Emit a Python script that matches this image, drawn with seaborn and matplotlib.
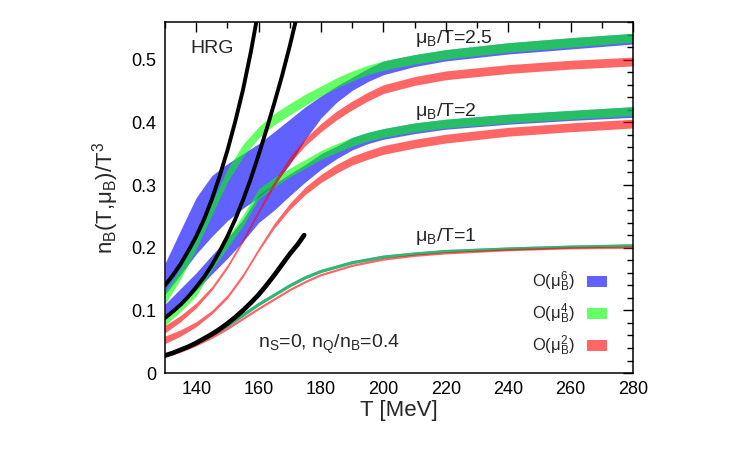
import numpy as np
import matplotlib
matplotlib.use("Agg")
import matplotlib.pyplot as plt
from matplotlib.patches import Patch
from matplotlib.ticker import MultipleLocator
import seaborn as sns

# ---------------- data ----------------
T_grid = [130, 135, 140, 145, 150, 155, 160, 165, 170, 175, 180, 185, 190, 195, 200, 210, 220, 240, 260, 280]

# mu_B/T = 2.5
blue25_lo = [0.125, 0.157, 0.190, 0.218, 0.243, 0.263, 0.280, 0.300, 0.333, 0.373, 0.407, 0.432, 0.451, 0.465, 0.476, 0.489, 0.498, 0.509, 0.517, 0.525]
blue25_hi = [0.175, 0.228, 0.280, 0.315, 0.334, 0.350, 0.366, 0.385, 0.405, 0.425, 0.442, 0.458, 0.472, 0.486, 0.498, 0.508, 0.516, 0.527, 0.535, 0.542]
green25_lo = [0.110, 0.150, 0.198, 0.252, 0.305, 0.345, 0.375, 0.396, 0.412, 0.427, 0.442, 0.455, 0.466, 0.476, 0.483, 0.493, 0.501, 0.512, 0.520, 0.528]
green25_hi = [0.130, 0.168, 0.218, 0.272, 0.325, 0.365, 0.393, 0.414, 0.430, 0.445, 0.458, 0.471, 0.482, 0.491, 0.498, 0.508, 0.516, 0.527, 0.535, 0.542]
red25_lo = [0.064, 0.082, 0.104, 0.132, 0.167, 0.209, 0.255, 0.298, 0.335, 0.363, 0.385, 0.404, 0.420, 0.434, 0.446, 0.459, 0.468, 0.478, 0.485, 0.490]
red25_hi = [0.076, 0.092, 0.112, 0.138, 0.173, 0.215, 0.261, 0.306, 0.345, 0.375, 0.398, 0.418, 0.434, 0.448, 0.460, 0.473, 0.482, 0.492, 0.499, 0.504]

# mu_B/T = 2
blue2_lo = [0.085, 0.108, 0.132, 0.158, 0.183, 0.210, 0.240, 0.260, 0.283, 0.305, 0.325, 0.342, 0.356, 0.366, 0.373, 0.382, 0.389, 0.397, 0.403, 0.408]
blue2_hi = [0.110, 0.135, 0.160, 0.188, 0.215, 0.245, 0.285, 0.302, 0.318, 0.333, 0.350, 0.362, 0.376, 0.384, 0.390, 0.399, 0.405, 0.413, 0.419, 0.425]
green2_lo = [0.076, 0.098, 0.123, 0.165, 0.200, 0.235, 0.278, 0.297, 0.313, 0.327, 0.341, 0.352, 0.362, 0.370, 0.376, 0.385, 0.391, 0.399, 0.405, 0.411]
green2_hi = [0.088, 0.112, 0.138, 0.180, 0.216, 0.252, 0.294, 0.312, 0.327, 0.341, 0.355, 0.366, 0.376, 0.384, 0.390, 0.399, 0.405, 0.413, 0.419, 0.425]
red2_lo = [0.047, 0.059, 0.074, 0.094, 0.119, 0.153, 0.194, 0.231, 0.261, 0.285, 0.304, 0.319, 0.332, 0.341, 0.349, 0.359, 0.367, 0.378, 0.385, 0.391]
red2_hi = [0.059, 0.069, 0.082, 0.100, 0.125, 0.159, 0.200, 0.239, 0.271, 0.297, 0.317, 0.333, 0.346, 0.355, 0.363, 0.373, 0.381, 0.392, 0.399, 0.405]

# mu_B/T = 1 (bands are thin, drawn as lines)
T_mu1 = [130, 135, 140, 145, 150, 155, 160, 165, 170, 175, 180, 190, 200, 210, 220, 240, 260, 280]
mu1_high = [0.028, 0.037, 0.047, 0.060, 0.075, 0.092, 0.109, 0.124, 0.139, 0.152, 0.162, 0.176, 0.185, 0.190, 0.194, 0.198, 0.201, 0.203]
mu1_low = [0.026, 0.034, 0.044, 0.056, 0.070, 0.086, 0.102, 0.117, 0.132, 0.145, 0.156, 0.171, 0.181, 0.187, 0.191, 0.196, 0.199, 0.200]

# HRG curves
T_hrg25 = [130, 132.5, 135, 137.5, 140, 142.5, 145, 147.5, 150, 152.5, 155, 157.5, 160]
hrg25 = [0.140, 0.156, 0.174, 0.195, 0.218, 0.245, 0.277, 0.314, 0.355, 0.401, 0.452, 0.512, 0.580]
T_hrg2 = [130, 132.5, 135, 137.5, 140, 142.5, 145, 147.5, 150, 152.5, 155, 157.5, 160, 162.5, 165, 167.5, 170, 172.5]
hrg2 = [0.088, 0.098, 0.109, 0.122, 0.137, 0.153, 0.172, 0.194, 0.218, 0.245, 0.276, 0.310, 0.348, 0.388, 0.430, 0.474, 0.522, 0.574]
T_hrg1 = [130, 132.5, 135, 137.5, 140, 142.5, 145, 147.5, 150, 152.5, 155, 157.5, 160, 162.5, 165, 167.5, 170, 172.5, 174.6]
hrg1 = [0.028, 0.032, 0.037, 0.042, 0.048, 0.055, 0.062, 0.070, 0.079, 0.089, 0.100, 0.112, 0.125, 0.140, 0.156, 0.173, 0.190, 0.205, 0.220]

x_ticks = [140, 160, 180, 200, 220, 240, 260, 280]
y_ticks = [0, 0.1, 0.2, 0.3, 0.4, 0.5]
y_ticklabels = ["0", "0.1", "0.2", "0.3", "0.4", "0.5"]
legend_labels = [r"O(μ$_{\mathregular{B}}^{\mathregular{6}}$)",
                 r"O(μ$_{\mathregular{B}}^{\mathregular{4}}$)",
                 r"O(μ$_{\mathregular{B}}^{\mathregular{2}}$)"]

# ---------------- style ----------------
sns.set_style("white")
plt.rcParams['font.family'] = ['Liberation Sans', 'DejaVu Sans']
plt.rcParams['mathtext.fontset'] = 'custom'
plt.rcParams['mathtext.rm'] = 'Liberation Sans'
plt.rcParams['mathtext.it'] = 'Liberation Sans:italic'

BLUE, GREEN, RED = (0, 0, 1), (0, 1, 0), (1, 0, 0)
A = 0.62

fig = plt.figure(figsize=(7.5, 4.5), dpi=100)
ax = fig.add_axes([0.22, 0.171, 0.624, 0.78])

# bands
ax.fill_between(T_grid, blue25_lo, blue25_hi, color=BLUE, alpha=A, lw=0)
ax.fill_between(T_grid, blue2_lo, blue2_hi, color=BLUE, alpha=A, lw=0)
ax.fill_between(T_grid, green25_lo, green25_hi, color=GREEN, alpha=0.6, lw=0)
ax.fill_between(T_grid, green2_lo, green2_hi, color=GREEN, alpha=0.6, lw=0)
ax.fill_between(T_grid, red25_lo, red25_hi, color=RED, alpha=0.6, lw=0)
ax.fill_between(T_grid, red2_lo, red2_hi, color=RED, alpha=0.6, lw=0)

sns.lineplot(x=T_mu1, y=mu1_high, color=BLUE, alpha=A, lw=2.2, ax=ax)
sns.lineplot(x=T_mu1, y=mu1_high, color=GREEN, alpha=0.6, lw=2.0, ax=ax)
sns.lineplot(x=T_mu1, y=mu1_low, color=RED, alpha=0.6, lw=1.6, ax=ax)

# HRG
sns.lineplot(x=T_hrg25, y=hrg25, color='black', lw=2.8, ax=ax)
sns.lineplot(x=T_hrg2, y=hrg2, color='black', lw=2.8, ax=ax)
sns.lineplot(x=T_hrg1, y=hrg1, color='black', lw=3.4, ax=ax)

ax.set_xlim(130, 280)
ax.set_ylim(0, 0.56)
ax.set_xticks(x_ticks)
ax.set_yticks(y_ticks)
ax.set_yticklabels(y_ticklabels)
ax.xaxis.set_minor_locator(MultipleLocator(10))
ax.yaxis.set_minor_locator(MultipleLocator(0.02))
ax.tick_params(which='both', direction='in', top=True, right=True, width=1.0,
               labelsize=13, colors='black')
ax.tick_params(which='major', length=7, pad=6)
ax.tick_params(which='minor', length=4)
for s in ax.spines.values():
    s.set_linewidth(1.1)
    s.set_color('black')

ax.set_xlabel("T [MeV]", fontsize=16, labelpad=1)
ax.set_ylabel(r"n$_{\mathregular{B}}$(T,μ$_{\mathregular{B}}$)/T$^{\mathregular{3}}$", fontsize=16, labelpad=8)

ax.text(138, 0.511, "HRG", fontsize=14)
ax.text(210, 0.527, r"μ$_{\mathregular{B}}$/T=2.5", fontsize=14)
ax.text(210, 0.410, r"μ$_{\mathregular{B}}$/T=2", fontsize=14)
ax.text(210, 0.210, r"μ$_{\mathregular{B}}$/T=1", fontsize=14)
ax.text(159.8, 0.040, r"n$_{\mathregular{S}}$=0, n$_{\mathregular{Q}}$/n$_{\mathregular{B}}$=0.4", fontsize=14)

handles = [Patch(facecolor=BLUE, alpha=A, lw=0),
           Patch(facecolor=GREEN, alpha=0.6, lw=0),
           Patch(facecolor=RED, alpha=0.6, lw=0)]
ax.legend(handles, legend_labels, loc='center right', bbox_to_anchor=(0.944, 0.168),
          frameon=False, markerfirst=False, fontsize=12, handlelength=1.2,
          handleheight=0.65, handletextpad=0.7, labelspacing=0.45,
          borderpad=0, borderaxespad=0)

fig.savefig("out.png", dpi=100, facecolor='white')
